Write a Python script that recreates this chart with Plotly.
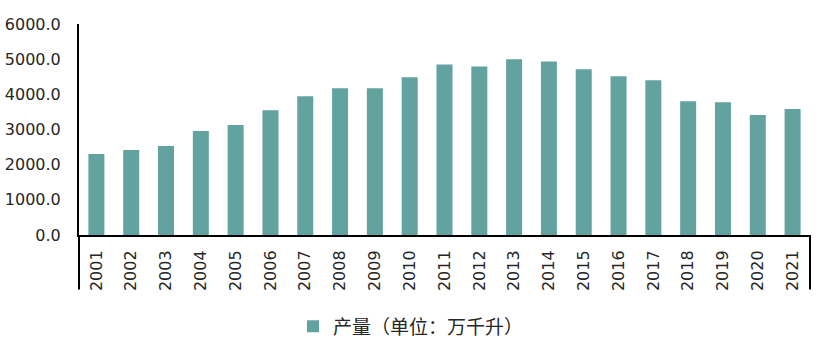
import plotly.graph_objects as go

years = [str(y) for y in range(2001, 2022)]
output = [2300, 2415, 2530, 2955, 3125, 3550, 3945, 4175, 4175, 4485,
          4850, 4795, 4995, 4935, 4710, 4515, 4400, 3805, 3775, 3410, 3580]
series_name = "产量（单位：万千升）"
y_ticks = [0, 1000, 2000, 3000, 4000, 5000, 6000]

W, H = 835, 356
L, R, T, B = 79, 25, 23.5, 120.7

fig = go.Figure()
fig.add_trace(go.Bar(x=years, y=output, name=series_name,
                     marker=dict(color="#62A39F", line=dict(width=0))))

font_main = "DejaVu Sans"
plot_w = W - L - R
plot_h = H - T - B
fig.update_layout(
    width=W, height=H,
    margin=dict(l=L, r=R, t=T, b=B, pad=0, autoexpand=False),
    paper_bgcolor="white", plot_bgcolor="white",
    bargap=0.54,
    showlegend=True,
    legend=dict(orientation="h", x=(293 - L) / plot_w, xanchor="left",
                y=(235.3 - 327) / plot_h, yanchor="middle",
                font=dict(family="Noto Sans CJK SC", size=19, color="#262626"),
                itemwidth=30),
    font=dict(family=font_main, color="#262626"),
)
fig.update_xaxes(type="category", showline=True, linecolor="black", linewidth=2,
                 tickangle=-90, tickfont=dict(family=font_main, size=16, color="#262626"),
                 ticks="", showgrid=False, ticklabelstandoff=7, automargin=False)
fig.update_yaxes(range=[0, 6000], tickvals=y_ticks, tickformat=".1f",
                 showline=True, linecolor="black", linewidth=2,
                 ticks="", showgrid=False, zeroline=False,
                 tickfont=dict(family=font_main, size=16, color="#262626"),
                 ticklabelstandoff=13, automargin=False)

ext = (290 - 235.3) / plot_h
fig.add_shape(type="line", xref="paper", yref="paper", x0=0, x1=0, y0=0, y1=-ext,
              line=dict(color="black", width=2))
fig.add_shape(type="line", xref="paper", yref="paper", x0=1, x1=1, y0=0, y1=-ext,
              line=dict(color="black", width=2))

fig.write_html("out.html", config={"displayModeBar": False},
               post_script="document.body.style.margin='0';document.body.style.padding='0';")
